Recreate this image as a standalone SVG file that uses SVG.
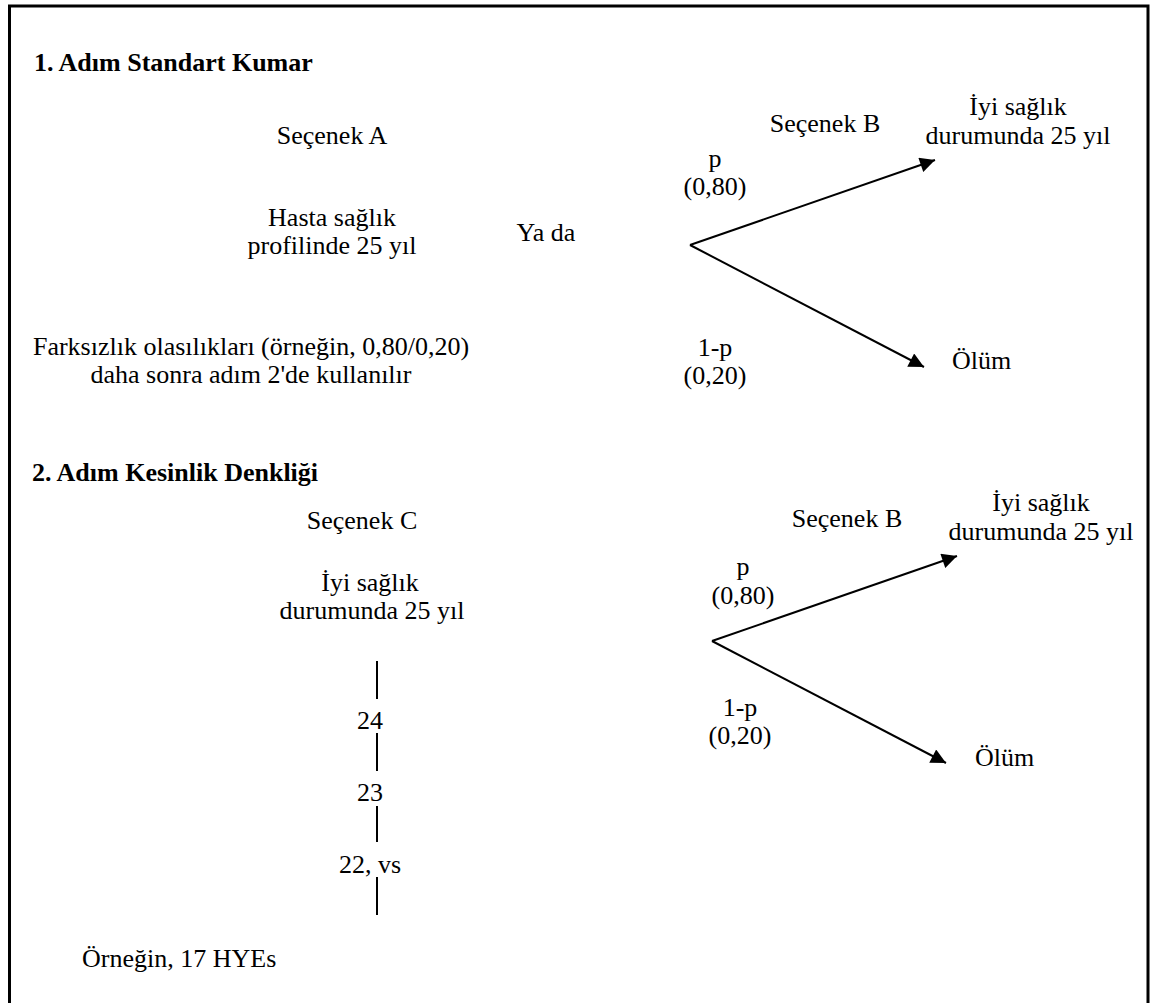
<svg xmlns="http://www.w3.org/2000/svg" width="1151" height="1003" viewBox="0 0 1151 1003" font-family="'Liberation Serif', 'Times New Roman', serif">
<style>
text{font-family:'Liberation Serif','Times New Roman',serif;font-size:26px;fill:#000}
.h{font-weight:bold}
.c{text-anchor:middle}
.ln{stroke:#000;stroke-width:2;fill:none}
</style>
<defs>
<marker id="ah" viewBox="0 0 10 10" refX="10" refY="5" markerUnits="userSpaceOnUse" markerWidth="17" markerHeight="15" orient="auto"><path d="M0,0 L10,5 L0,10 Z" fill="#000"/></marker>
</defs>
<rect width="1151" height="1003" fill="#fff"/>
<path d="M9.5,1003 V6 H1148 V1003" fill="none" stroke="#000" stroke-width="3"/>
<g id="step1"><text class="h" x="34" y="71">1. Adım Standart Kumar</text></g>
<g id="secenekA"><text class="c" x="332" y="144">Seçenek A</text></g>
<g id="hasta"><text class="c" x="332" y="226">Hasta sağlık</text><text class="c" x="332" y="254">profilinde 25 yıl</text></g>
<g id="yada"><text class="c" x="546" y="241">Ya da</text></g>
<g id="farksizlik"><text class="c" x="251" y="355">Farksızlık olasılıkları (örneğin, 0,80/0,20)</text><text class="c" x="251" y="383">daha sonra adım 2'de kullanılır</text></g>
<g id="secenekB1"><text class="c" x="825" y="132">Seçenek B</text></g>
<g id="p1"><text class="c" x="715" y="167">p</text><text class="c" x="715" y="195">(0,80)</text></g>
<g id="iyi1"><text class="c" x="1018" y="115">İyi sağlık</text><text class="c" x="1018" y="144">durumunda 25 yıl</text></g>
<g id="q1"><text class="c" x="715" y="356">1-p</text><text class="c" x="715" y="384">(0,20)</text></g>
<g id="olum1"><text x="952" y="369">Ölüm</text></g>
<g id="step2"><text class="h" x="32" y="481">2. Adım Kesinlik Denkliği</text></g>
<g id="secenekC"><text class="c" x="362" y="529">Seçenek C</text></g>
<g id="iyiC"><text class="c" x="370" y="591">İyi sağlık</text><text class="c" x="372" y="619">durumunda 25 yıl</text></g>
<g id="n24"><text class="c" x="370" y="729">24</text></g>
<g id="n23"><text class="c" x="370" y="801">23</text></g>
<g id="n22"><text class="c" x="370" y="873">22, vs</text></g>
<g id="ornegin"><text x="82" y="967">Örneğin, 17 HYEs</text></g>
<g id="secenekB2"><text class="c" x="847" y="527">Seçenek B</text></g>
<g id="iyi2"><text class="c" x="1041" y="511">İyi sağlık</text><text class="c" x="1041" y="540">durumunda 25 yıl</text></g>
<g id="p2"><text class="c" x="743" y="575">p</text><text class="c" x="743" y="604">(0,80)</text></g>
<g id="q2"><text class="c" x="740" y="716">1-p</text><text class="c" x="740" y="744">(0,20)</text></g>
<g id="olum2"><text x="975" y="766">Ölüm</text></g>
<g id="connectors">
<path class="ln" d="M690,245 L935,160" marker-end="url(#ah)"/>
<path class="ln" d="M690,245 L924,367" marker-end="url(#ah)"/>
<path class="ln" d="M712,641 L957,556" marker-end="url(#ah)"/>
<path class="ln" d="M712,641 L946,763" marker-end="url(#ah)"/>
<path class="ln" d="M377,661 V699 M377,733 V771 M377,806 V842 M377,877 V915"/>
</g>
</svg>
